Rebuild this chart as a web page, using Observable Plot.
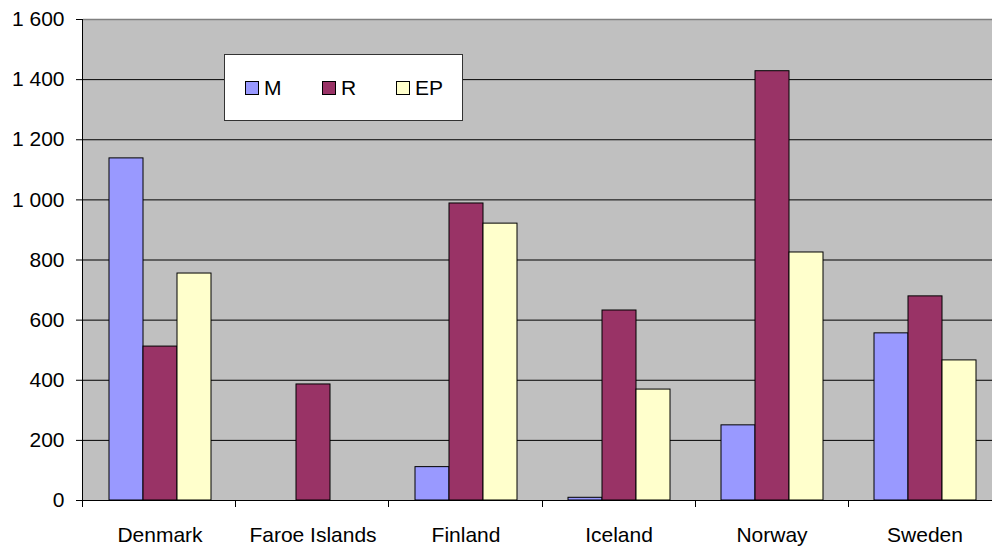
<!DOCTYPE html>
<html><head><meta charset="utf-8">
<script src="https://cdn.jsdelivr.net/npm/d3@7"></script>
<script src="https://cdn.jsdelivr.net/npm/@observablehq/plot@0.6"></script>
<style>
html,body{margin:0;padding:0;background:#fff;overflow:hidden}
#wrap{position:relative;width:992px;height:546px;overflow:hidden}
.legend{position:absolute;left:224px;top:54px;width:237px;height:65px;border:1px solid #333;background:#fff;font-family:"Liberation Sans",Arial,sans-serif;font-size:21px;color:#000}
.item{position:absolute;top:0;height:65px;display:flex;align-items:center}
.sw{width:12px;height:12px;border:1px solid #000;margin-right:5px}
</style></head><body><div id="wrap"></div>
<script>
const countries = ["Denmark", "Faroe Islands", "Finland", "Iceland", "Norway", "Sweden"];
const series = ["M", "R", "EP"];
const M  = [1138, 0, 111, 9, 250, 556];
const R  = [512, 386, 988, 632, 1428, 679];
const EP = [755, 0, 921, 369, 825, 466];
const colors = ["#9999FF", "#993366", "#FFFFCC"];
const yTicks = [0, 200, 400, 600, 800, 1000, 1200, 1400, 1600];

const values = {M, R, EP};
const rows = countries.flatMap((c, i) => series.map(s => ({country: c, series: s, value: values[s][i]})));

const fmt = d => d3.format(",")(d).replace(/,/g, " ");

const chart = Plot.plot({
  width: 992, height: 546,
  marginLeft: 82, marginRight: -9, marginTop: 19, marginBottom: 46,
  style: {fontFamily: '"Liberation Sans", Arial, sans-serif', fontSize: "21px", background: "#fff", color: "#000", overflow: "hidden"},
  fx: {domain: countries, padding: 0, label: null, tickSize: 0, tickPadding: 27},
  x: {domain: series, paddingInner: 0, paddingOuter: 0.75, axis: null},
  y: {domain: [0, 1600], ticks: yTicks, tickFormat: fmt, tickSize: 7, tickPadding: 12, label: null},
  color: {domain: series, range: colors},
  facet: {data: rows, x: "country"},
  marks: [
    Plot.ruleY(yTicks.slice(0, -1), {stroke: "#000", strokeWidth: 1}),
    Plot.ruleY([1600], {stroke: "#808080", strokeWidth: 1.5}),
    Plot.barY(rows, {x: "series", y: "value", fill: "series", stroke: "#000", strokeWidth: 1})
  ]
});

const svg = d3.select(chart);
const fx = chart.scale("fx");
const r0 = fx.range[0], r1 = fx.range[1];
const step = (r1 - r0) / countries.length;
const ys = chart.scale("y");
const y0 = ys.apply ? ys.apply(0) : 500;
const yTop = ys.apply ? ys.apply(1600) : 19;

// single gray plot background behind all facets
svg.insert("rect", ":first-child")
  .attr("x", r0).attr("y", yTop).attr("width", r1 - r0).attr("height", y0 - yTop)
  .attr("fill", "#C0C0C0");

// y axis line and category boundary ticks below the axis, derived from the scales
const g = svg.append("g").attr("stroke", "#000").attr("stroke-width", 1);
g.append("line").attr("x1", Math.round(r0) + 0.5).attr("x2", Math.round(r0) + 0.5).attr("y1", yTop).attr("y2", y0);
g.selectAll("line.t").data(d3.range(countries.length + 1)).join("line").attr("class", "t")
  .attr("x1", i => Math.round(r0 + i * step) + 0.5).attr("x2", i => Math.round(r0 + i * step) + 0.5)
  .attr("y1", y0).attr("y2", y0 + 7);

const wrap = document.getElementById("wrap");
wrap.appendChild(chart);

const legend = document.createElement("div");
legend.className = "legend";
const offsets = [20, 97, 171];
series.forEach((s, i) => {
  const it = document.createElement("div");
  it.className = "item";
  it.style.left = offsets[i] + "px";
  it.innerHTML = `<span class="sw" style="background:${colors[i]}"></span><span>${s}</span>`;
  legend.appendChild(it);
});
wrap.appendChild(legend);
</script>
</body></html>
